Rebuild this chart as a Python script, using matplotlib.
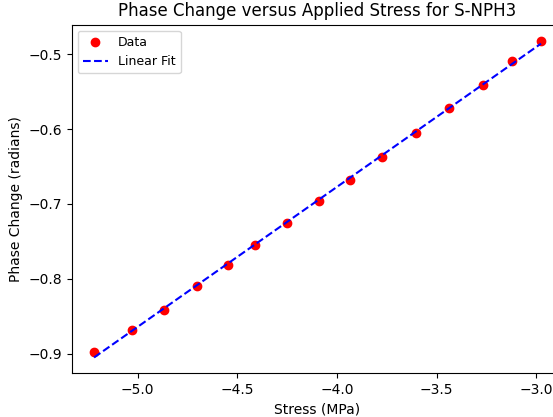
import matplotlib.pyplot as plt
import numpy as np

# values
stress = np.array([-5.219, -5.027, -4.866, -4.704, -4.545, -4.410, -4.249, -4.090,
                   -3.936, -3.774, -3.602, -3.437, -3.269, -3.120, -2.976])
phase = np.array([-0.8977, -0.8689, -0.8412, -0.8095, -0.7820, -0.7543, -0.7249, -0.6964,
                  -0.6674, -0.6370, -0.6049, -0.5721, -0.5409, -0.5093, -0.4816])

slope, intercept = np.polyfit(stress, phase, 1)

fig = plt.figure(figsize=(5.53, 4.17), dpi=100)
ax = fig.add_axes([0.1297, 0.1048, 0.889, 0.836])

ax.plot(stress, phase, 'ro', label="Data")
ax.plot(stress, slope * stress + intercept, 'b--', label="Linear Fit")

ax.set_xlabel("Stress (MPa)")
ax.set_ylabel("Phase Change (radians)")
ax.set_title("Phase Change versus Applied Stress for S-NPH3")
ax.legend(loc='upper left', fontsize=9)

fig.savefig("out.png", dpi=100)
